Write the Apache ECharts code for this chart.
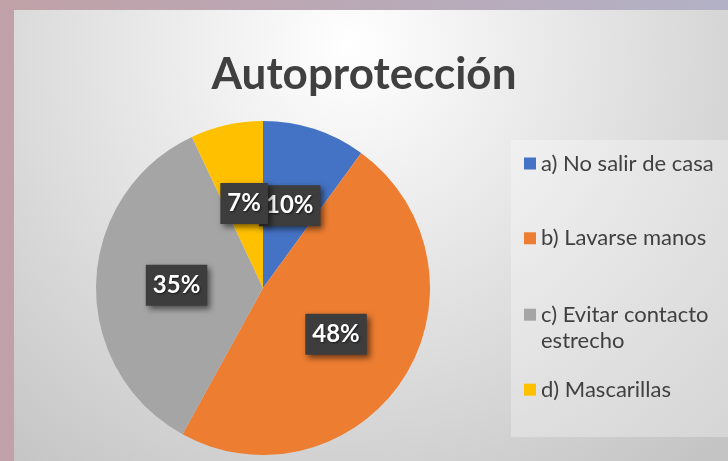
<!DOCTYPE html>
<html>
<head>
<meta charset="utf-8">
<script src="https://cdn.jsdelivr.net/npm/echarts@6/dist/echarts.min.js"></script>
<style>
html,body{margin:0;padding:0;}
#chart{width:728px;height:461px;}
</style>
</head>
<body>
<div id="chart"></div>
<script>
const titleText = 'Autoprotección';
const categories = ['a) No salir de casa', 'b) Lavarse manos', 'c) Evitar contacto estrecho', 'd) Mascarillas'];
const values = [10, 48, 35, 7];

const sliceColors = ['#4472C4', '#ED7D31', '#A5A5A5', '#FFC000'];
const legendTops = [150.5, 225.3, 275.7, 376.7];

const chart = echarts.init(document.getElementById('chart'), null, {renderer: 'canvas'});

const legendBase = {
  orient: 'vertical',
  left: 524,
  padding: 0,
  itemWidth: 12,
  itemHeight: 12,
  icon: 'rect',
  selectedMode: false,
  textStyle: {
    fontFamily: 'Lato',
    fontSize: 22,
    lineHeight: 26,
    color: '#404040'
  }
};

const legends = categories.map((name, i) => Object.assign({}, legendBase, {
  data: [name],
  top: legendTops[i],
  formatter: n => (n.indexOf(' estrecho') >= 0 ? ' \n' + n.replace(' estrecho', '\nestrecho') : n)
}));

const option = {
  animation: false,
  color: sliceColors,
  graphic: [
    {
      type: 'rect', z: -30, silent: true,
      shape: {x: 0, y: 0, width: 728, height: 461},
      style: {fill: {type: 'linear', x: 0, y: 0, x2: 1, y2: 0,
        colorStops: [{offset: 0, color: '#c0a1a7'}, {offset: 1, color: '#b3b1c6'}]}}
    },
    {
      type: 'rect', z: -20, silent: true,
      shape: {x: 14, y: 10, width: 714, height: 451},
      style: {fill: {type: 'radial', x: 0.47, y: 0.08, r: 1.2,
        colorStops: [{offset: 0, color: '#ffffff'}, {offset: 1, color: '#c4c4c4'}]}}
    },
    {
      type: 'rect', z: -10, silent: true,
      shape: {x: 511, y: 140, width: 217, height: 297},
      style: {fill: 'rgba(255,255,255,0.3)'}
    }
  ],
  title: {
    text: titleText,
    left: 'center',
    top: 53,
    padding: [0, 10, 0, 0],
    textStyle: {
      fontFamily: 'Lato',
      fontWeight: 'bold',
      fontSize: 44,
      color: '#404040'
    }
  },
  legend: legends,
  series: [{
    type: 'pie',
    center: [263, 288],
    radius: 167,
    startAngle: 90,
    clockwise: true,
    avoidLabelOverlap: false,
    labelLayout: {hideOverlap: false},
    data: categories.map((name, i) => ({name: name, value: values[i]})),
    label: {
      show: true,
      position: 'inside',
      formatter: '{d}%',
      fontFamily: 'Lato',
      fontWeight: 'bold',
      fontSize: 24,
      lineHeight: 27,
      color: '#ffffff',
      backgroundColor: '#3d3d3d',
      padding: [7, 7],
      shadowColor: 'rgba(0,0,0,0.55)',
      shadowBlur: 6,
      shadowOffsetX: 3,
      shadowOffsetY: 3,
      textShadowColor: 'rgba(0,0,0,0.6)',
      textShadowBlur: 2,
      textShadowOffsetX: 1,
      textShadowOffsetY: 1
    },
    labelLine: {show: false},
    emphasis: {disabled: true}
  }]
};

chart.setOption(option);
</script>
</body>
</html>
